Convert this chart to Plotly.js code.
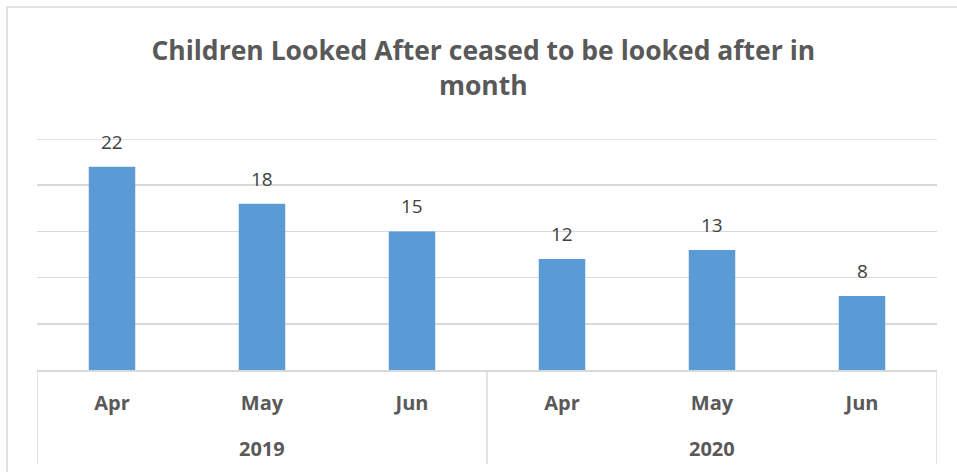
<!DOCTYPE html>
<html>
<head>
<meta charset="utf-8">
<script src="https://cdn.plot.ly/plotly-3.0.1.min.js"></script>
<style>html,body{margin:0;padding:0;background:#fff;}#chart{width:957px;height:472px;}</style>
</head>
<body>
<div id="chart"></div>
<script>
var years = ["2019", "2019", "2019", "2020", "2020", "2020"];
var months = ["Apr", "May", "Jun", "Apr", "May", "Jun"];
var values = [22, 18, 15, 12, 13, 8];

var idx = months.map(function (m, i) { return i; });

var trace = {
  type: "bar",
  x: idx,
  y: values,
  marker: {color: "#5B9BD5"},
  width: 0.31,
  hoverinfo: "none"
};

var FONT = "Open Sans, sans-serif";
var annotations = [];
// value labels
values.forEach(function (v, i) {
  annotations.push({
    x: idx[i], y: v, xref: "x", yref: "y",
    text: String(v), showarrow: false,
    yanchor: "bottom", yshift: 10,
    font: {family: FONT, size: 19, color: "#404040"}
  });
});
// year group labels and dividers
var groups = [];
years.forEach(function (y, i) {
  var g = groups.length ? groups[groups.length - 1] : null;
  if (!g || g.name !== y) { groups.push({name: y, start: i, end: i}); }
  else { g.end = i; }
});
var shapes = [];
groups.forEach(function (g, k) {
  annotations.push({
    x: (g.start + g.end) / 2, y: -0.34, xref: "x", yref: "paper",
    text: g.name, showarrow: false, yanchor: "middle",
    font: {family: FONT, size: 20, color: "#595959", weight: "bold"}
  });
  if (k === 0) {
    shapes.push({type: "line", xref: "x", yref: "paper", x0: g.start - 0.5, x1: g.start - 0.5, y0: 0, y1: -0.407, line: {color: "#d9d9d9", width: 1.5}});
  }
  shapes.push({type: "line", xref: "x", yref: "paper", x0: g.end + 0.5, x1: g.end + 0.5, y0: 0, y1: -0.407, line: {color: "#d9d9d9", width: 1.5}});
});
// top gridline at the range edge
shapes.push({type: "line", xref: "paper", yref: "y", x0: 0, x1: 1, y0: 25, y1: 25, line: {color: "#d9d9d9", width: 1.5}, layer: "below"});
// outer chart-area border (left and top)
shapes.push({type: "line", xref: "paper", yref: "paper", x0: -0.0333, x1: -0.0333, y0: 1.571, y1: -0.5, line: {color: "#d9d9d9", width: 1.5}});
shapes.push({type: "line", xref: "paper", yref: "paper", x0: -0.0333, x1: 1.1, y0: 1.571, y1: 1.571, line: {color: "#d9d9d9", width: 1.5}});

var layout = {
  width: 957, height: 472,
  margin: {l: 37, r: 20, t: 139, b: 102},
  paper_bgcolor: "#fff", plot_bgcolor: "#fff",
  showlegend: false,
  title: {
    text: "Children Looked After ceased to be looked after in<br>month",
    font: {family: FONT, size: 26.5, color: "#595959", weight: "bold"},
    x: 0.505, xanchor: "center", y: 0.8725, yanchor: "top"
  },
  xaxis: {
    range: [-0.5, 5.5],
    tickmode: "array", tickvals: idx, ticktext: months,
    showline: true, linecolor: "#d9d9d9", linewidth: 1.5,
    ticks: "", showgrid: false, zeroline: false,
    ticklabelstandoff: 14,
    tickfont: {family: FONT, size: 20, color: "#595959", weight: "bold"}
  },
  yaxis: {
    range: [0, 25], dtick: 5, showticklabels: false,
    showgrid: true, gridcolor: "#d9d9d9", gridwidth: 1.5,
    zeroline: false, showline: false, ticks: ""
  },
  annotations: annotations,
  shapes: shapes
};

Plotly.newPlot("chart", [trace], layout, {displayModeBar: false, staticPlot: true});
</script>
</body>
</html>
